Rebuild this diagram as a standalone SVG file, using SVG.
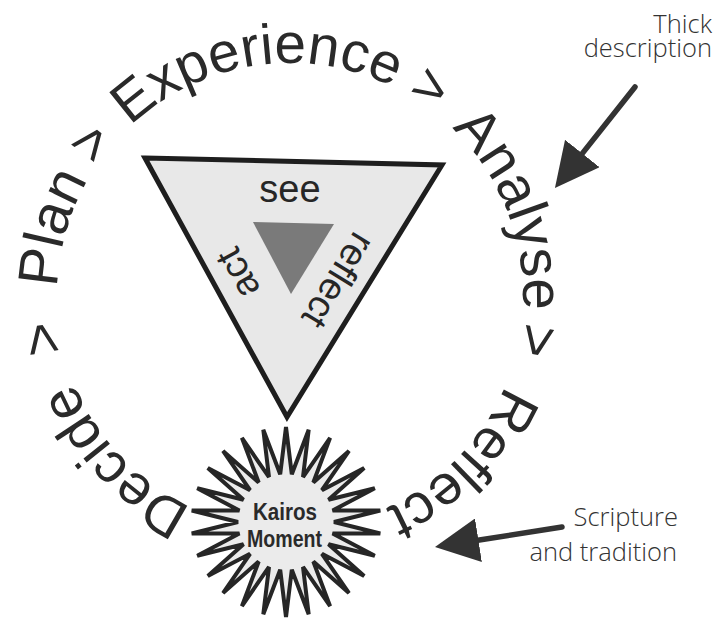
<svg xmlns="http://www.w3.org/2000/svg" width="718" height="621" viewBox="0 0 718 621">
<style>
.ring{font-family:"Liberation Sans",Arial,sans-serif;font-size:56.5px;fill:#2a2a2a}
.tri{font-family:"Liberation Sans",Arial,sans-serif;font-size:38px;fill:#262626}
.kai{font-family:"Liberation Sans",Arial,sans-serif;font-size:23px;font-weight:bold;fill:#2a2a2a}
.note{font-family:"Open Sans","Noto Sans",sans-serif;font-size:25.5px;font-weight:300;fill:#333}
.arrow{stroke:#333;stroke-width:5.5;fill:none;stroke-linecap:round}
</style>
<defs>
<path id="ring" d="M 290 529 A 233 233 0 0 1 290 63 A 233 233 0 0 1 290 529"/>
<marker id="head" viewBox="0 0 44 44" markerWidth="44" markerHeight="44" refX="4" refY="22" orient="auto" markerUnits="userSpaceOnUse">
<path d="M0,0 L44,22 L0,44 Z" fill="#333"/>
</marker>
</defs>
<rect width="718" height="621" fill="#fff"/>
<g id="cycle-labels" class="ring">
<text><textPath href="#ring" startOffset="189.5" text-anchor="middle">Decide</textPath></text>
<text><textPath href="#ring" startOffset="326" text-anchor="middle">&gt;</textPath></text>
<text><textPath href="#ring" startOffset="431" text-anchor="middle">Plan</textPath></text>
<text><textPath href="#ring" startOffset="519" text-anchor="middle">&gt;</textPath></text>
<text><textPath href="#ring" startOffset="697.4" text-anchor="middle">Experience</textPath></text>
<text><textPath href="#ring" startOffset="870" text-anchor="middle">&gt;</textPath></text>
<text><textPath href="#ring" startOffset="1011" text-anchor="middle">Analyse</textPath></text>
<text><textPath href="#ring" startOffset="1139.5" text-anchor="middle">&gt;</textPath></text>
<text><textPath href="#ring" startOffset="1277" text-anchor="middle">Reflect</textPath></text>
</g>
<g id="triangle">
<polygon points="145,158 442,165 287,417" fill="#e8e8e8" stroke="#1e1e1e" stroke-width="5" stroke-linejoin="miter"/>
<polygon points="253,222 334,224 291,294" fill="#7a7a7a"/>
<text class="tri" x="290" y="202" text-anchor="middle">see</text>
<text class="tri" transform="translate(240,272) rotate(241.3)" x="0" y="10" text-anchor="middle">act</text>
<text class="tri" transform="translate(336,279) rotate(121.6)" x="0" y="10" text-anchor="middle">reflect</text>
</g>
<g id="kairos">
<polygon points="286,427 291.8,474.3 308.7,429.8 303,477.1 330.1,437.9 313.3,482.5 349,450.9 321.9,490.2 364.2,468 328.5,499.7 374.8,488.3 332.6,510.5 380.3,510.5 334,522 380.3,533.5 332.6,533.5 374.8,555.7 328.5,544.3 364.2,576 321.9,553.8 349,593.1 313.3,561.5 330.1,606.1 303,566.9 308.7,614.2 291.8,569.7 286,617 280.2,569.7 263.3,614.2 269,566.9 241.9,606.1 258.7,561.5 223,593.1 250.1,553.8 207.8,576 243.5,544.3 197.2,555.7 239.4,533.5 191.7,533.5 238,522 191.7,510.5 239.4,510.5 197.2,488.3 243.5,499.7 207.8,468 250.1,490.2 223,450.9 258.7,482.5 241.9,437.9 269,477.1 263.3,429.8 280.2,474.3" fill="#ebebeb" stroke="#262626" stroke-width="4" stroke-linejoin="miter"/>
<text class="kai" x="285" y="520" text-anchor="middle" textLength="64" lengthAdjust="spacingAndGlyphs">Kairos</text>
<text class="kai" x="284.5" y="547" text-anchor="middle" textLength="75" lengthAdjust="spacingAndGlyphs">Moment</text>
</g>
<g id="note-thick" class="note">
<text x="712" y="33" text-anchor="end">Thick</text>
<text x="712" y="57" text-anchor="end">description</text>
</g>
<g id="note-scripture" class="note">
<text x="678" y="526" text-anchor="end">Scripture</text>
<text x="677" y="561" text-anchor="end">and tradition</text>
</g>
<g id="connectors">
<line class="arrow" x1="635" y1="87" x2="579.8" y2="156.6" marker-end="url(#head)"/>
<line class="arrow" x1="562" y1="527" x2="474.5" y2="540.8" marker-end="url(#head)"/>
</g>
</svg>
